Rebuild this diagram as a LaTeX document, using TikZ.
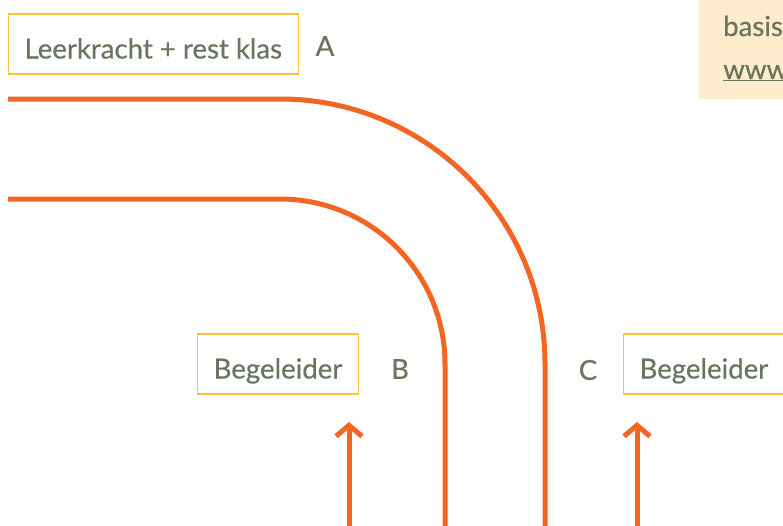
\documentclass[tikz,border=0pt]{standalone}
\usepackage{fontspec}
\setmainfont{Lato}[FakeBold=0.5]
\usepackage{xcolor}
\usepackage{tikz}
\usetikzlibrary{arrows.meta, positioning}
\definecolor{routeorange}{RGB}{242,101,34}
\definecolor{boxyellow}{RGB}{255,193,64}
\definecolor{textgreen}{RGB}{104,118,96}
\definecolor{notefill}{RGB}{255,236,205}

\begin{document}
\begin{tikzpicture}[x=1pt, y=-1pt,
            box/.style={draw=boxyellow, line width=1.1pt, rectangle, minimum height=60pt, inner xsep=16pt, text height=29pt, text depth=0pt, text=textgreen, font=\fontsize{27.6}{32}\selectfont},
            tag/.style={text=textgreen, font=\fontsize{27.6}{32}\selectfont},
            route/.style={draw=routeorange, line width=5pt},
            pijl/.style={route, -{Straight Barb[length=11pt, width=26pt]}}]
            \useasboundingbox (0,0) rectangle (783,525);
            \clip (0,0) rectangle (783,525);

            % note top right
            \fill[notefill] (699,-5) rectangle (790,99);
            \node[anchor=base west, text=textgreen, font=\fontsize{27.6}{32}\selectfont, inner sep=0pt] (basis) at (723,36) {basis};
            \node[anchor=base west, text=textgreen, font=\fontsize{27.6}{32}\selectfont, inner sep=0pt] (www) at (723,79) {\underline{www}};

            \node[box, anchor=west] (klas) at (8,44) {Leerkracht + rest klas};
            \node[tag] (A) at (325,46) {A};

            \node[box] (begB) at (278,364) {Begeleider};
            \node[tag] (B) at (400,369) {B};
            \node[tag] (C) at (588,370) {C};
            \node[box, anchor=west] (begC) at (623,364) {Begeleider};

            % routes
            \coordinate (a0) at (8,99);
            \coordinate (a1) at (545,99);
            \coordinate (a2) at (545,530);
            \coordinate (b0) at (8,199);
            \coordinate (b1) at (445,199);
            \coordinate (b2) at (445,530);
            \draw[route, rounded corners=265pt] (a0) -- (a1) -- (a2);
            \draw[route, rounded corners=165pt] (b0) -- (b1) -- (b2);

            \coordinate (p0) at (349,530);
            \coordinate (p1) at (349,422);
            \coordinate (q0) at (637,530);
            \coordinate (q1) at (637,422);
            \draw[pijl] (p0) -- (p1);
            \draw[pijl] (q0) -- (q1);
        \end{tikzpicture}
\end{document}
